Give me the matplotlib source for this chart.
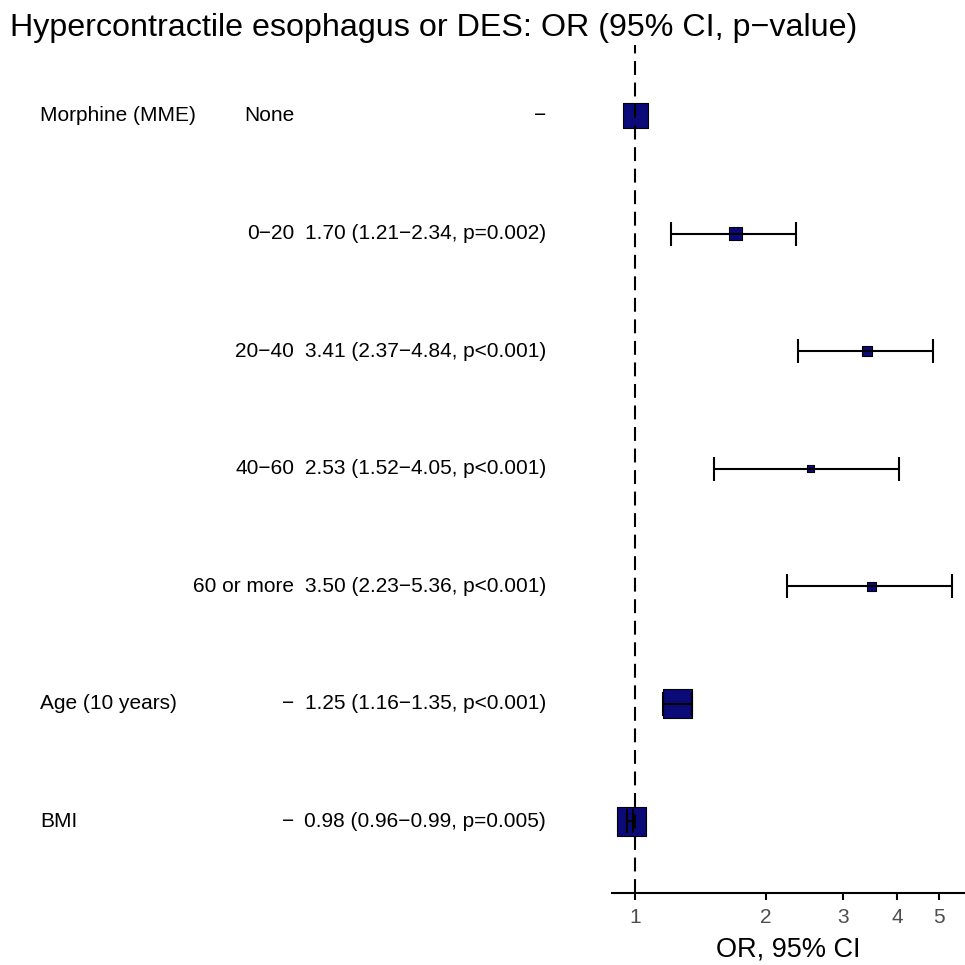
import numpy as np
import matplotlib
matplotlib.use("Agg")
import matplotlib.pyplot as plt
from matplotlib.transforms import blended_transform_factory

plt.rcParams['font.family'] = ['Liberation Sans', 'DejaVu Sans']
plt.rcParams['lines.scale_dashes'] = False

# ---- data ----
variables = ["Morphine (MME)", "", "", "", "", "Age (10 years)", "BMI"]
levels = ["None", "0\u221220", "20\u221240", "40\u221260", "60 or more", "\u2212", "\u2212"]
or_text = ["\u2212",
           "1.70 (1.21\u22122.34, p=0.002)",
           "3.41 (2.37\u22124.84, p<0.001)",
           "2.53 (1.52\u22124.05, p<0.001)",
           "3.50 (2.23\u22125.36, p<0.001)",
           "1.25 (1.16\u22121.35, p<0.001)",
           "0.98 (0.96\u22120.99, p=0.005)"]
or_vals = [1.00, 1.70, 3.41, 2.53, 3.50, 1.25, 0.98]
ci_low = [np.nan, 1.21, 2.37, 1.52, 2.23, 1.16, 0.96]
ci_high = [np.nan, 2.34, 4.84, 4.05, 5.36, 1.35, 0.99]
box_px = [25, 12.5, 10.5, 7.5, 9, 29, 29]   # relative weight boxes (pixels)
xticks = [1, 2, 3, 4, 5]

W = 965
fig = plt.figure(figsize=(9.65, 9.65), dpi=100)
ax = fig.add_axes([612 / W, 1 - 893 / W, 1 - 612 / W, (893 - 45) / W])
ax.set_xscale('log')
ax.set_xlim(0.885, 5.73)
n = len(or_vals)
rows = np.arange(n)
ax.set_ylim(6.61, -0.604)

# reference line
ax.axvline(1, color='black', lw=1.5, linestyle=(0, (10, 5.5)), zorder=3)

# boxes
sizes = [(p * 72 / 100) ** 2 for p in box_px]
ax.scatter(or_vals, rows, s=sizes, marker='s', facecolor='#0a0a78',
           edgecolor='black', linewidth=0.8, zorder=2)

# CIs
for i in range(n):
    if np.isnan(ci_low[i]):
        continue
    ax.errorbar([or_vals[i]], [rows[i]],
                xerr=[[or_vals[i] - ci_low[i]], [ci_high[i] - or_vals[i]]],
                fmt='none', ecolor='black', elinewidth=1.5, capsize=8.3,
                capthick=1.5, zorder=4)

for s in ['left', 'top', 'right']:
    ax.spines[s].set_visible(False)
ax.spines['bottom'].set_linewidth(1.5)
ax.set_yticks([])
ax.set_xticks(xticks)
ax.set_xticklabels([str(t) for t in xticks])
ax.xaxis.set_minor_locator(matplotlib.ticker.NullLocator())
ax.tick_params(axis='x', length=5, width=1.5, pad=5.5, labelsize=15,
               labelcolor='#4d4d4d')
ax.set_xlabel("OR, 95% CI", fontsize=19.5, labelpad=7)

# text table
tr = blended_transform_factory(fig.transFigure, ax.transData)
fs = 15
for i in range(n):
    if variables[i]:
        ax.text(40 / W, rows[i], variables[i], transform=tr, ha='left',
                va='center', fontsize=fs, clip_on=False)
    ax.text(294 / W, rows[i], levels[i], transform=tr, ha='right',
            va='center', fontsize=fs, clip_on=False)
    ax.text(546 / W, rows[i], or_text[i], transform=tr, ha='right',
            va='center', fontsize=fs, clip_on=False)

fig.text(10 / W, 1 - 28 / W, "Hypercontractile esophagus or DES: OR (95% CI, p\u2212value)",
         ha='left', va='center', fontsize=23.2)

fig.savefig("out.png", dpi=100)
